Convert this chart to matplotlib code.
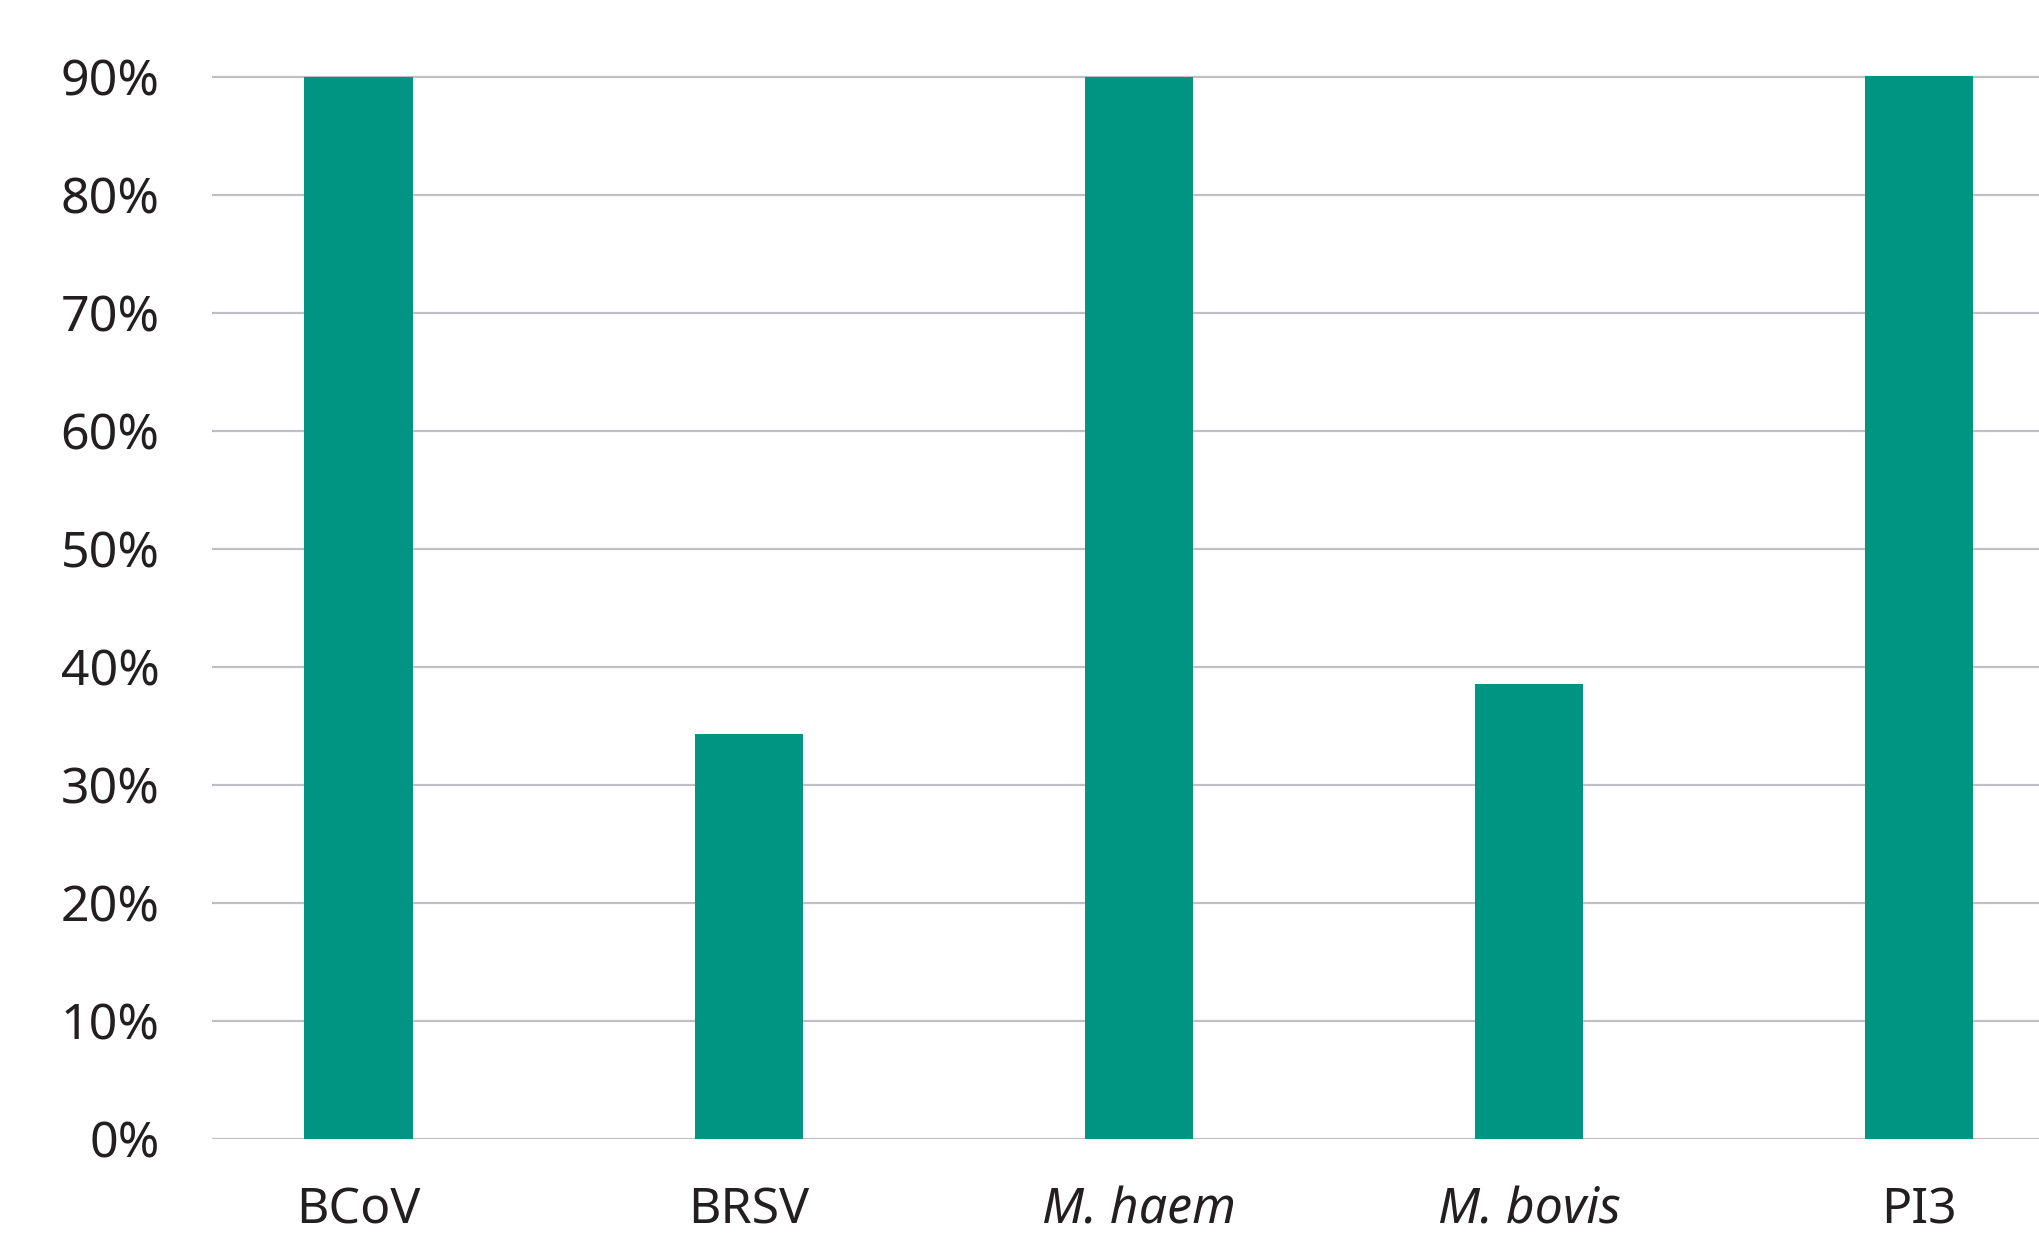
import matplotlib
matplotlib.use("Agg")
import matplotlib.pyplot as plt

plt.rcParams['font.family'] = ['Noto Sans', 'DejaVu Sans']

# data
labels = ['BCoV', 'BRSV', 'M. haem', 'M. bovis', 'PI3']
italic = [False, False, True, True, False]
values = [90.0, 34.3, 90.0, 38.5, 90.1]
yticks = [0, 10, 20, 30, 40, 50, 60, 70, 80, 90]

teal = '#009482'
grid = '#c0c0c4'
txt = '#231f20'

fig = plt.figure(figsize=(20.4, 12.4), dpi=100)
ax = fig.add_axes([0.104, 0.0818, 0.896, 0.8752])

x = list(range(len(labels)))
ax.bar(x, values, width=0.277, color=teal, zorder=3)

ax.set_xlim(-0.375, 4.31)
ax.set_ylim(0, 92)
ax.set_yticks(yticks)
ax.set_yticklabels([f'{t}%' for t in yticks])
ax.set_xticks(x)
ax.set_xticklabels(labels)
for lab, it in zip(ax.get_xticklabels(), italic):
    if it:
        lab.set_style('italic')

ax.yaxis.grid(True, color=grid, linewidth=1.6, zorder=0)
ax.set_axisbelow(True)
for s in ax.spines.values():
    s.set_visible(False)
ax.tick_params(axis='both', length=0, labelsize=36, colors=txt)
ax.tick_params(axis='y', pad=38)
ax.tick_params(axis='x', pad=34)

fig.savefig('out.png', dpi=100, facecolor='white')
